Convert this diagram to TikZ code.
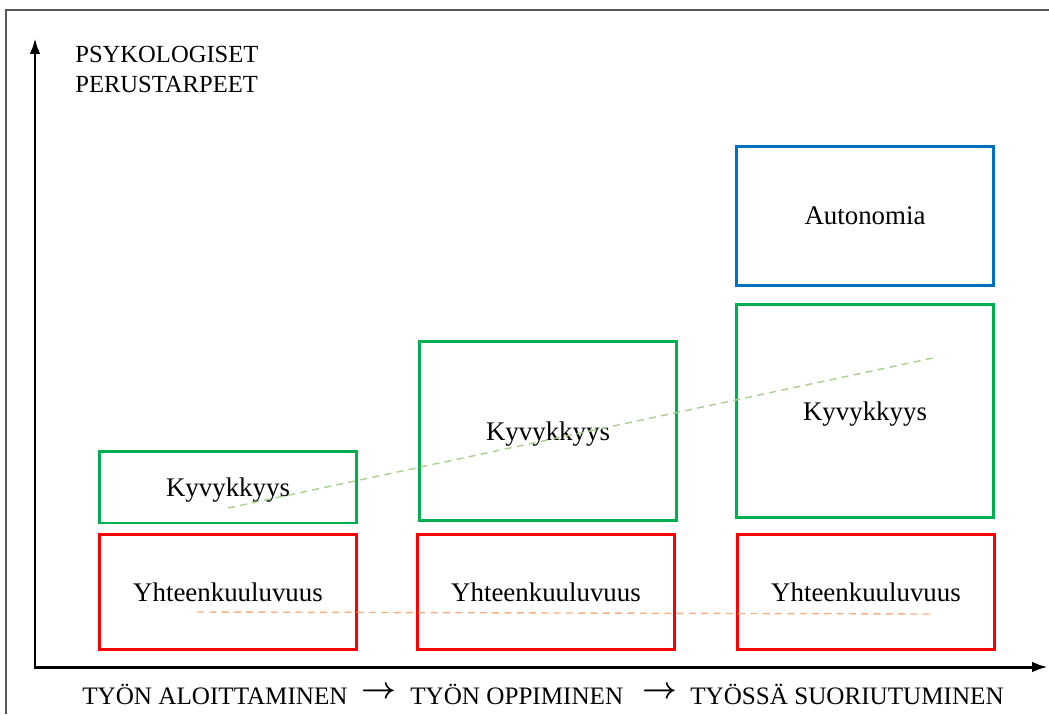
\documentclass[tikz,border=0pt]{standalone}
\usepackage{amsmath, amssymb}
\usepackage{fontspec}
\setmainfont{Liberation Serif}
\usepackage{tikz}
\usetikzlibrary{arrows.meta}
\usepackage{xcolor}

\definecolor{needred}{HTML}{FF0000}
\definecolor{needgreen}{HTML}{00B050}
\definecolor{needblue}{HTML}{0070C0}
\definecolor{trendgreen}{HTML}{A9D18E}
\definecolor{trendorange}{HTML}{F4B183}

\tikzset{
    needbox/.style={rectangle, draw, line width=1.7pt, minimum width=5.14cm, inner sep=0pt, text depth=0pt, font=\fontsize{15.3}{18}\selectfont},
    axisline/.style={line width=1.7pt, {Latex[length=9pt,width=6pt]}-{Latex[length=9pt,width=6pt]}},
    trend/.style={dashed, line width=0.8pt, dash pattern=on 4pt off 3pt},
    phase/.style={font=\fontsize{14.3}{17}\selectfont, inner sep=0pt},
    phasearrow/.style={font=\fontsize{17}{20}\selectfont, inner sep=0pt}
}

\begin{document}
\begin{tikzpicture}[x=0.02cm, y=-0.02cm]
    \useasboundingbox (0,0) rectangle (1049,714);

    % Outer frame
    \draw[gray!70!black, line width=0.7pt] (6,714) -- (6,10) -- (1049,10);

    % Axes
    \coordinate (Origin) at (35,667);
    \coordinate (YTip) at (35,38);
    \coordinate (XTip) at (1048,667);
    \draw[axisline] (YTip) -- (Origin) -- (XTip);

    % Axis label
    \node[anchor=north west, align=left, inner sep=0pt, font=\fontsize{14}{17}\selectfont] (YLabel) at (75,46) {PSYKOLOGISET\\PERUSTARPEET};

    % Column 1: starting the work
    \node[needbox, needgreen, minimum height=1.44cm, text=black] (Kyv1) at (228,487) {Kyvykkyys};
    \node[needbox, needred, minimum height=2.3cm, text=black] (Yht1) at (228,592) {Yhteenkuuluvuus};

    % Column 2: learning the work
    \node[needbox, needgreen, minimum height=3.6cm, text=black] (Kyv2) at (548,431) {Kyvykkyys};
    \node[needbox, needred, minimum height=2.3cm, text=black] (Yht2) at (546,592) {Yhteenkuuluvuus};

    % Column 3: performing the work
    \node[needbox, needblue, minimum height=2.78cm, text=black] (Auto3) at (865,216) {Autonomia};
    \node[needbox, needgreen, minimum height=4.28cm, text=black] (Kyv3) at (865,411) {Kyvykkyys};
    \node[needbox, needred, minimum height=2.3cm, text=black] (Yht3) at (866,592) {Yhteenkuuluvuus};

    % Trend lines
    \coordinate (G1) at (228,508);
    \coordinate (G2) at (933,358);
    \coordinate (R1) at (197,612);
    \coordinate (R2) at (931,614);
    \draw[trend, trendgreen] (G1) -- (G2);
    \draw[trend, trendorange] (R1) -- (R2);

    % Phases along the time axis
    \node[phase, anchor=west] (Phase1) at (82,694) {TYÖN ALOITTAMINEN};
    \node[phasearrow, anchor=west] (Arrow1) at (361,693) {$\boldsymbol{\rightarrow}$};
    \node[phase, anchor=west] (Phase2) at (410,694) {TYÖN OPPIMINEN};
    \node[phasearrow, anchor=west] (Arrow2) at (642,693) {$\boldsymbol{\rightarrow}$};
    \node[phase, anchor=west] (Phase3) at (690,694) {TYÖSSÄ SUORIUTUMINEN};
\end{tikzpicture}
\end{document}
